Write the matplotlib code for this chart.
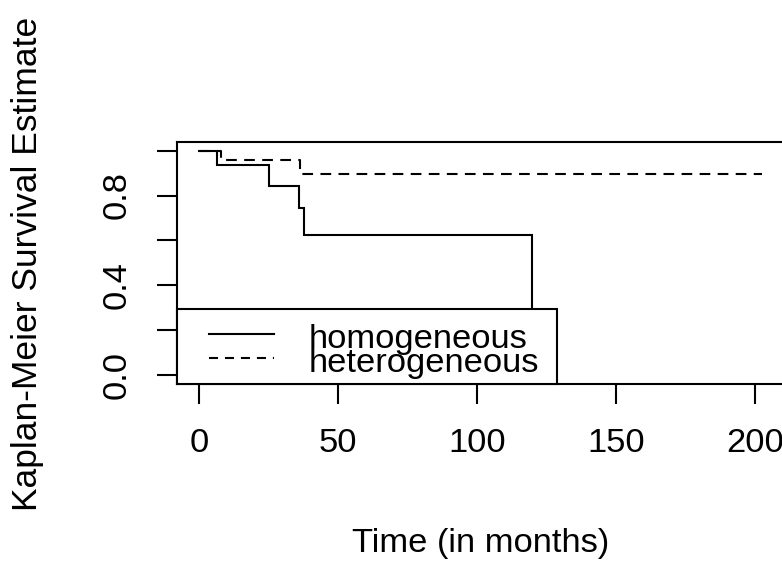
import matplotlib
matplotlib.use("Agg")
import matplotlib.pyplot as plt
from matplotlib.patches import Rectangle

plt.rcParams['font.family'] = ['Liberation Sans', 'DejaVu Sans']
plt.rcParams['lines.scale_dashes'] = False

# Data
homog_times = [0, 6.4, 25.0, 36.1, 37.8, 119.8]
homog_surv = [1.0, 0.936, 0.844, 0.746, 0.624, 0.0]
heter_times = [0, 8.0, 36.4, 202.7]
heter_surv = [1.0, 0.957, 0.896, 0.896]
series_labels = ["homogeneous", "heterogeneous"]
x_ticks = [0, 50, 100, 150, 200]
y_ticks = [0.0, 0.2, 0.4, 0.6, 0.8, 1.0]
y_ticklabels = ["0.0", "", "0.4", "", "0.8", ""]

W, H = 782, 564
fig = plt.figure(figsize=(W / 100, H / 100), dpi=100)
left_px, right_px, top_px, bot_px = 176.5, 785.0, 141.7, 384.0
ax = fig.add_axes([left_px / W, 1 - bot_px / H, (right_px - left_px) / W, (bot_px - top_px) / H])

FS = 24.8
LW = 1.5
DASH = (0, (7.7, 5.3))

ax.step(homog_times, homog_surv, where='post', color='black', lw=LW, solid_joinstyle='miter')
ax.step(heter_times, heter_surv, where='post', color='black', lw=LW, linestyle=DASH)

xmax = max(heter_times[-1], homog_times[-1])
ax.set_xlim(-0.04 * xmax, 1.04 * xmax)
ax.set_ylim(-0.04, 1.04)

ax.set_xticks(x_ticks)
ax.set_xticklabels([str(t) for t in x_ticks], fontsize=FS)
ax.set_yticks(y_ticks)
ax.set_yticklabels(y_ticklabels, fontsize=FS)
for lab in ax.get_yticklabels():
    lab.set_rotation(90)
    lab.set_va('center')
ax.tick_params(axis='x', length=14.4, width=LW, pad=17.6, color='black')
ax.tick_params(axis='y', length=14.4, width=LW, pad=17.4, color='black')
for s in ax.spines.values():
    s.set_linewidth(LW)

# Legend (bottom-left, drawn R-style)
x0, x1 = ax.get_xlim()
leg_right = 128.8
ax.add_patch(Rectangle((x0, -0.04), leg_right - x0, 0.294 + 0.04, facecolor='white',
                       edgecolor='black', lw=LW, zorder=5, clip_on=False))
ax.plot([3.7, 27.0], [0.183, 0.183], color='black', lw=LW, zorder=6)
ax.plot([3.7, 27.0], [0.074, 0.074], color='black', lw=LW, linestyle=(0, (6.5, 5.0)), zorder=6)
ax.text(39.4, 0.119, series_labels[0], fontsize=FS, va='baseline', ha='left', zorder=7)
ax.text(39.4, 0.015, series_labels[1], fontsize=FS, va='baseline', ha='left', zorder=7)

fig.text(480.7 / W, 1 - 551.7 / H, "Time (in months)", fontsize=FS, ha='center', va='baseline')
fig.text(28 / W, 1 - 263.5 / H, "Kaplan-Meier Survival Estimate", fontsize=25.5,
         ha='center', va='center', rotation=90)

fig.savefig("out.png", dpi=100)
